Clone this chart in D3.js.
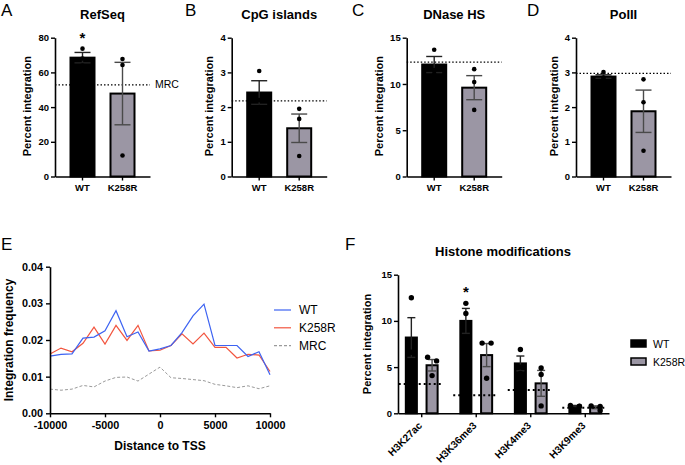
<!DOCTYPE html>
<html><head><meta charset="utf-8">
<script src="https://cdn.jsdelivr.net/npm/d3@7"></script>
<style>body{margin:0;background:#fff}svg{display:block}text{font-family:"Liberation Sans",Arial,sans-serif}</style>
</head><body>
<script>
// ---------- DATA ----------
const groups = ["WT", "K258R"];
const panelLetters = ["A", "B", "C", "D"];
const panelTitles = ["RefSeq", "CpG islands", "DNase HS", "PolII"];
const yMaxes = [80, 4, 15, 4];
const yTickSteps = [20, 1, 5, 1];
const wtMeans = [68.5, 2.42, 12.1, 2.88];
const wtErrs = [3.0, 0.34, 0.87, 0.05];
const wtPoints = [[73.7, 68.0, 64.0], [3.04, 2.2, 2.0], [13.7, 11.5, 11.1], [3.01, 2.85, 2.8]];
const k258rMeans = [47.8, 1.39, 9.6, 1.88];
const k258rErrs = [18.0, 0.41, 1.3, 0.61];
const k258rPoints = [[67.7, 64.3, 12.1], [1.95, 1.66, 0.59], [11.6, 10.2, 7.2], [2.8, 2.14, 0.74]];
const mrcValues = [52.8, 2.18, 12.37, 2.97];
const significant = [true, false, false, false];

const tssDistance = [-10000,-9000,-8000,-7000,-6000,-5000,-4000,-3000,-2000,-1000,0,1000,2000,3000,4000,5000,6000,7000,8000,9000,10000];
const tssWT =    [0.0156,0.0161,0.0162,0.0205,0.0208,0.0225,0.0280,0.0209,0.0222,0.0170,0.0176,0.0185,0.0220,0.0266,0.0298,0.0185,0.0185,0.0185,0.0155,0.0168,0.0105];
const tssK258R = [0.0162,0.0178,0.0168,0.0191,0.0235,0.0189,0.0240,0.0199,0.0240,0.0170,0.0172,0.0185,0.0217,0.0189,0.0219,0.0180,0.0180,0.0151,0.0161,0.0159,0.0114];
const tssMRC =   [0.0066,0.0063,0.0066,0.0076,0.0072,0.0088,0.0098,0.0099,0.0088,0.0107,0.0126,0.0097,0.0095,0.0092,0.0089,0.0079,0.0075,0.0070,0.0075,0.0067,0.0075];
const tssXTicks = [-10000, -5000, 0, 5000, 10000];
const tssYTicks = [0, 0.01, 0.02, 0.03, 0.04];

const histoneMarks = ["H3K27ac", "H3K36me3", "H3K4me3", "H3K9me3"];
const histWTMeans = [8.2, 10.0, 5.4, 0.79];
const histWTErrs = [2.15, 1.35, 0.8, 0.06];
const histWTPoints = [[12.5, 6.6, 5.5], [11.9, 10.8, 7.3], [6.9, 5.0, 4.3], [0.85, 0.78, 0.74]];
const histKMeans = [5.2, 6.3, 3.24, 0.65];
const histKErrs = [0.62, 1.25, 1.4, 0.15];
const histKPoints = [[6.06, 5.67, 4.08], [7.6, 7.6, 3.8], [4.9, 4.2, 0.8], [0.8, 0.75, 0.3]];
const histMRC = [3.18, 1.95, 2.52, 0.6];
const histSignificant = [false, true, false, false];
const histYTicks = [0, 5, 10, 15];

// ---------- STYLE / LAYOUT ----------
const KCOL = "#9b96a4";
const svg = d3.select("body").append("svg").attr("width", 685).attr("height", 465);

function styleAxis(g, fs) {
  g.select(".domain").attr("stroke", "#000").attr("stroke-width", 1.6);
  g.selectAll(".tick line").attr("stroke", "#000").attr("stroke-width", 1.4);
  g.selectAll(".tick text").attr("fill", "#000").style("font-size", fs + "px").style("font-weight", "bold")
    .style("font-family", '"Liberation Sans",Arial,sans-serif');
}
function letter(t, x, y) {
  svg.append("text").attr("x", x).attr("y", y).text(t)
    .style("font-family", '"Liberation Sans",Arial,sans-serif').style("font-size", "17px").attr("fill", "#000");
}

// ---------- PANELS A-D ----------
const axisXs = [55, 231.7, 406.7, 576];
const letterXs = [1, 185, 352, 527];
const plotTop = 37.7, plotBottom = 176.5;

for (let i = 0; i < 4; i++) {
  const ax = axisXs[i];
  const g = svg.append("g");
  const y = d3.scaleLinear().domain([0, yMaxes[i]]).range([plotBottom, plotTop]);
  const x = d3.scaleBand().domain(groups).range([ax, ax + 95]).paddingInner(0.35).paddingOuter(0.3625);
  const bw = x.bandwidth();

  g.append("line").attr("x1", ax).attr("x2", ax + 95).attr("y1", y(mrcValues[i])).attr("y2", y(mrcValues[i]))
    .attr("stroke", "#000").attr("stroke-width", 1.2).attr("stroke-dasharray", "1.5,2");

  const rows = [
    {grp: "WT", mean: wtMeans[i], err: wtErrs[i], pts: wtPoints[i], fill: "#000", ecol: "#222"},
    {grp: "K258R", mean: k258rMeans[i], err: k258rErrs[i], pts: k258rPoints[i], fill: KCOL, ecol: "#4a4a4a"}
  ];
  rows.forEach(r => {
    g.append("rect").attr("x", x(r.grp) + 1).attr("width", bw - 2).attr("y", y(r.mean)).attr("height", y(0) - y(r.mean))
      .attr("fill", r.fill).attr("stroke", "#000").attr("stroke-width", 2);
    const cx = x(r.grp) + bw / 2;
    const eg = g.append("g").attr("stroke", r.ecol).attr("stroke-width", 1.4);
    eg.append("line").attr("x1", cx).attr("x2", cx).attr("y1", y(r.mean - r.err)).attr("y2", y(r.mean + r.err));
    [r.mean - r.err, r.mean + r.err].forEach(v =>
      eg.append("line").attr("x1", cx - 8).attr("x2", cx + 8).attr("y1", y(v)).attr("y2", y(v)));
    g.selectAll(null).data(r.pts).enter().append("circle")
      .attr("cx", cx).attr("cy", d => y(d)).attr("r", 2.3).attr("fill", "#000");
  });
  if (significant[i]) {
    g.append("text").attr("x", x("WT") + bw / 2).attr("y", y(wtPoints[i][0]) - 6).attr("text-anchor", "middle")
      .style("font-size", "15px").style("font-weight", "bold").text("*");
  }

  const yAx = g.append("g").attr("transform", `translate(${ax},0)`)
    .call(d3.axisLeft(y).tickValues(d3.range(0, yMaxes[i] + 1e-9, yTickSteps[i])).tickFormat(d3.format("~g"))
      .tickSize(4).tickSizeOuter(0).tickPadding(2));
  styleAxis(yAx, 9.5);
  const xAx = g.append("g").attr("transform", `translate(0,${plotBottom})`)
    .call(d3.axisBottom(x).tickSize(4).tickSizeOuter(0).tickPadding(4));
  styleAxis(xAx, 9.5);

  const bb = yAx.node().getBBox();
  g.append("text").attr("transform", `translate(${ax + bb.x - 7},${(plotTop + plotBottom) / 2 - 1}) rotate(-90)`)
    .attr("text-anchor", "middle").style("font-size", "11px").style("font-weight", "bold").text("Percent integration");
  g.append("text").attr("x", ax + 47.5).attr("y", 18.5).attr("text-anchor", "middle")
    .style("font-size", "13px").style("font-weight", "bold").text(panelTitles[i]);
  letter(panelLetters[i], letterXs[i], 16);
  if (i === 0) {
    g.append("text").attr("x", ax + 100).attr("y", y(mrcValues[i]) + 3.5).style("font-size", "10.5px").text("MRC");
  }
}

// ---------- PANEL E ----------
{
  const g = svg.append("g");
  const x = d3.scaleLinear().domain([-10000, 10000]).range([50, 270]);
  const y = d3.scaleLinear().domain([0, 0.04]).range([413.3, 266.7]);
  const line = d3.line().x((d, k) => x(tssDistance[k])).y(d => y(d));
  g.append("path").datum(tssMRC).attr("d", line).attr("fill", "none").attr("stroke", "#9a9a9a").attr("stroke-width", 1).attr("stroke-dasharray", "3,2");
  g.append("path").datum(tssK258R).attr("d", line).attr("fill", "none").attr("stroke", "#f2553f").attr("stroke-width", 1.2);
  g.append("path").datum(tssWT).attr("d", line).attr("fill", "none").attr("stroke", "#3d63f2").attr("stroke-width", 1.2);

  const yAx = g.append("g").attr("transform", "translate(50,0)")
    .call(d3.axisLeft(y).tickValues(tssYTicks).tickFormat(d3.format(".2f")).tickSize(4).tickSizeOuter(0).tickPadding(3));
  styleAxis(yAx, 10.8);
  const xAx = g.append("g").attr("transform", "translate(0,413.3)")
    .call(d3.axisBottom(x).tickValues(tssXTicks).tickFormat(d3.format("d")).tickSize(4).tickSizeOuter(0).tickPadding(4));
  styleAxis(xAx, 10.8);
  xAx.selectAll(".tick text").text(d => d < 0 ? "-" + Math.abs(d) : d);

  g.append("text").attr("transform", "translate(12.5,340) rotate(-90)").attr("text-anchor", "middle")
    .style("font-size", "12px").style("font-weight", "bold").text("Integration frequency");
  g.append("text").attr("x", 160).attr("y", 450).attr("text-anchor", "middle")
    .style("font-size", "12px").style("font-weight", "bold").text("Distance to TSS");

  const leg = [["WT", "#3d63f2", null], ["K258R", "#f2553f", null], ["MRC", "#9a9a9a", "3,2"]];
  leg.forEach((l, k) => {
    const yy = 310 + k * 17.8;
    g.append("line").attr("x1", 274).attr("x2", 291).attr("y1", yy).attr("y2", yy).attr("stroke", l[1])
      .attr("stroke-width", 1.2).attr("stroke-dasharray", l[2]);
    g.append("text").attr("x", 299).attr("y", yy + 4.3).style("font-size", "12px").text(l[0]);
  });
  letter("E", 1, 250);
}

// ---------- PANEL F ----------
{
  const g = svg.append("g");
  const y = d3.scaleLinear().domain([0, 15]).range([413.3, 274.7]);
  const x0 = d3.scaleBand().domain(histoneMarks).range([398, 609]).paddingInner(0.38).paddingOuter(0.125);
  const x1 = d3.scaleBand().domain(groups).range([0, x0.bandwidth()]).paddingInner(0.37).paddingOuter(0);
  const bw = x1.bandwidth();
  histoneMarks.forEach((m, i) => {
    const rows = [
      {grp: "WT", mean: histWTMeans[i], err: histWTErrs[i], pts: histWTPoints[i], fill: "#000", ecol: "#222"},
      {grp: "K258R", mean: histKMeans[i], err: histKErrs[i], pts: histKPoints[i], fill: KCOL, ecol: "#4a4a4a"}
    ];
    rows.forEach(r => {
      const bx = x0(m) + x1(r.grp);
      g.append("rect").attr("x", bx + 1).attr("width", bw - 2).attr("y", y(r.mean)).attr("height", y(0) - y(r.mean))
        .attr("fill", r.fill).attr("stroke", "#000").attr("stroke-width", 2);
      const cx = bx + bw / 2;
      const eg = g.append("g").attr("stroke", r.ecol).attr("stroke-width", 1.4);
      eg.append("line").attr("x1", cx).attr("x2", cx).attr("y1", y(Math.max(0, r.mean - r.err))).attr("y2", y(r.mean + r.err));
      [r.mean - r.err, r.mean + r.err].forEach(v =>
        eg.append("line").attr("x1", cx - 4).attr("x2", cx + 4).attr("y1", y(v)).attr("y2", y(v)));
      const placed = [];
      r.pts.forEach(v => {
        let off = 0;
        const py = y(v);
        const clash = placed.filter(p => Math.abs(p.py - py) < 5);
        if (clash.length) { off = 4.5; clash.forEach(p => { if (p.off === 0) p.off = -4.5; }); }
        placed.push({py, off});
      });
      placed.forEach(p => g.append("circle").attr("cx", cx + p.off).attr("cy", p.py).attr("r", 2.7).attr("fill", "#000"));
    });
    const c = x0(m) + x0.bandwidth() / 2;
    g.append("line").attr("x1", c - 23).attr("x2", c + 19).attr("y1", y(histMRC[i])).attr("y2", y(histMRC[i]))
      .attr("stroke", "#000").attr("stroke-width", 2).attr("stroke-dasharray", "2,3");
    if (histSignificant[i]) {
      g.append("text").attr("x", x0(m) + x1("WT") + bw / 2).attr("y", y(histWTPoints[i][0]) - 6).attr("text-anchor", "middle")
        .style("font-size", "15px").style("font-weight", "bold").text("*");
    }
  });
  const yAx = g.append("g").attr("transform", "translate(398,0)")
    .call(d3.axisLeft(y).tickValues(histYTicks).tickSize(4).tickSizeOuter(0).tickPadding(2));
  styleAxis(yAx, 9.5);
  const xAx = g.append("g").attr("transform", "translate(0,413.3)")
    .call(d3.axisBottom(x0).tickSize(4).tickSizeOuter(0));
  styleAxis(xAx, 10.2);
  xAx.selectAll(".tick text").attr("text-anchor", "end").attr("y", 0).attr("dy", 0)
    .attr("transform", "translate(1,13) rotate(-45)");

  g.append("text").attr("transform", "translate(371,344) rotate(-90)").attr("text-anchor", "middle")
    .style("font-size", "11px").style("font-weight", "bold").text("Percent integration");
  g.append("text").attr("x", 503).attr("y", 256).attr("text-anchor", "middle")
    .style("font-size", "13px").style("font-weight", "bold").text("Histone modifications");

  [["WT", "#000"], ["K258R", KCOL]].forEach((l, k) => {
    const yy = 340 + k * 18;
    g.append("rect").attr("x", 631).attr("y", yy).attr("width", 15).attr("height", 7)
      .attr("fill", l[1]).attr("stroke", "#000").attr("stroke-width", 1.5);
    g.append("text").attr("x", 653).attr("y", yy + 7.5).style("font-size", "10.5px").text(l[0]);
  });
  letter("F", 345, 250);
}
</script>
</body></html>
